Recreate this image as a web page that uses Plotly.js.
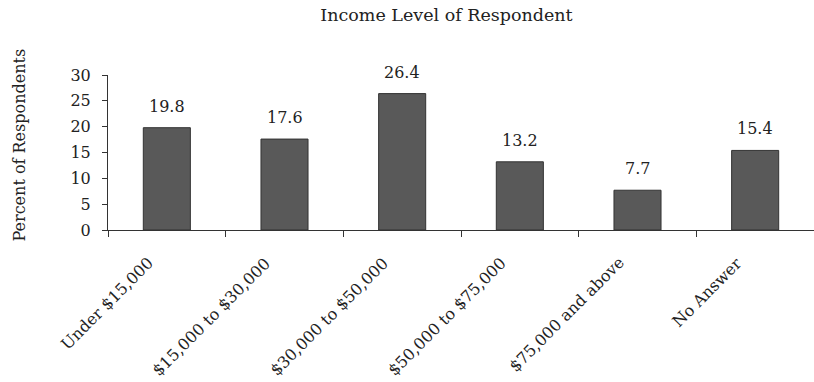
<!DOCTYPE html>
<html>
<head>
<meta charset="utf-8">
<script src="https://cdn.plot.ly/plotly-3.0.1.min.js"></script>
<style>
  html, body { margin: 0; padding: 0; background: #fff; }
  #chart { width: 814px; height: 382px; }
</style>
</head>
<body>
<div id="chart"></div>
<script>
// Income brackets and share of respondents (%)
const categories = [
  "Under $15,000",
  "$15,000 to $30,000",
  "$30,000 to $50,000",
  "$50,000 to $75,000",
  "$75,000 and above",
  "No Answer"
];
const percents = [19.8, 17.6, 26.4, 13.2, 7.7, 15.4];
const yTicks = [0, 5, 10, 15, 20, 25, 30];

const serif = "DejaVu Serif, Liberation Serif, serif";
const ink = "#222";

const trace = {
  type: "bar",
  x: categories,
  y: percents,
  marker: { color: "#595959", line: { color: "#333", width: 1 } },
  hoverinfo: "skip"
};

// value labels floating above each bar
const valueLabels = categories.map((c, i) => ({
  x: c,
  y: percents[i],
  xref: "x",
  yref: "y",
  text: percents[i].toFixed(1),
  showarrow: false,
  yanchor: "bottom",
  yshift: 10,
  font: { family: serif, size: 16, color: ink }
}));

// slanted category names hanging below the axis
const categoryLabels = categories.map(c => ({
  x: c,
  y: 0,
  xref: "x",
  yref: "paper",
  text: c,
  showarrow: false,
  textangle: -45,
  xanchor: "right",
  yanchor: "top",
  xshift: -7,
  yshift: -21,
  font: { family: serif, size: 16, color: ink }
}));

const layout = {
  width: 814,
  height: 382,
  margin: { l: 108, r: 0, t: 75, b: 152 },
  paper_bgcolor: "#fff",
  plot_bgcolor: "#fff",
  showlegend: false,
  bargap: 0.6,
  font: { family: serif, size: 16, color: ink },
  title: {
    text: "Income Level of Respondent",
    x: 0.5485,
    xref: "container",
    xanchor: "center",
    y: 0.96,
    yref: "container",
    yanchor: "middle",
    font: { family: serif, size: 17.5, color: ink }
  },
  xaxis: {
    type: "category",
    range: [-0.5, categories.length - 0.5],
    autorange: false,
    showticklabels: false,
    ticks: "outside",
    tickson: "boundaries",
    ticklen: 6,
    tickcolor: "#333",
    showline: true,
    linecolor: "#333",
    linewidth: 1,
    showgrid: false,
    zeroline: false
  },
  yaxis: {
    range: [0, 30],
    autorange: false,
    tickvals: yTicks,
    ticktext: yTicks.map(String),
    ticks: "outside",
    ticklen: 5,
    tickcolor: "#333",
    ticklabelstandoff: 8,
    showline: true,
    linecolor: "#333",
    linewidth: 1,
    showgrid: false,
    zeroline: false,
    tickfont: { family: serif, size: 16, color: ink }
  },
  annotations: valueLabels.concat(categoryLabels, [{
    text: "Percent of Respondents",
    xref: "paper",
    yref: "paper",
    x: -0.125,
    y: 0.55,
    xanchor: "center",
    yanchor: "middle",
    textangle: -90,
    showarrow: false,
    font: { family: serif, size: 16, color: ink }
  }])
};

Plotly.newPlot("chart", [trace], layout, { displayModeBar: false, staticPlot: true });
</script>
</body>
</html>
